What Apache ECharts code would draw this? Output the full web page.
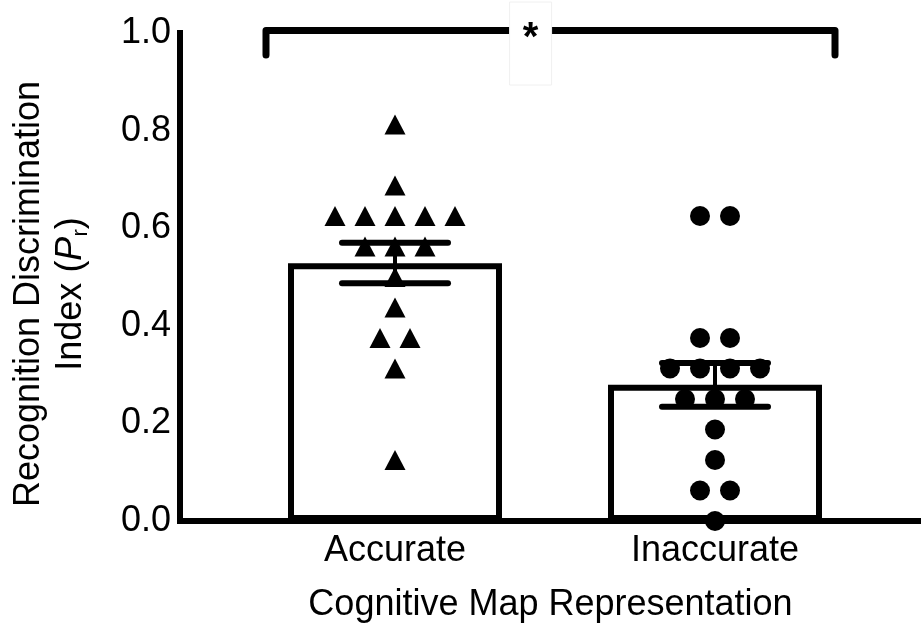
<!DOCTYPE html>
<html>
<head>
<meta charset="utf-8">
<script src="https://cdn.jsdelivr.net/npm/echarts@6/dist/echarts.min.js"></script>
<style>
html, body { margin: 0; padding: 0; background: #fff; }
#chart { width: 921px; height: 628px; }
</style>
</head>
<body>
<div id="chart"></div>
<script>
// data
const categories = ['Accurate', 'Inaccurate']
const barMeans = [0.528, 0.279]
const errLow = [0.487, 0.234]
const errHigh = [0.570, 0.324]
const accuratePoints = [0.8125, 0.6875, 0.625, 0.625, 0.625, 0.625, 0.625, 0.5625, 0.5625, 0.5625, 0.5, 0.4375, 0.375, 0.375, 0.3125, 0.125]
const inaccuratePoints = [0.625, 0.625, 0.375, 0.375, 0.3125, 0.3125, 0.3125, 0.3125, 0.25, 0.25, 0.25, 0.1875, 0.125, 0.0625, 0.0625, 0]
const bracketTop = 1.005
const bracketFoot = 0.955
const bracketLabel = '*'

const FONT = "'Liberation Sans', Arial, Helvetica, sans-serif"

// spread points sharing the same value side by side (beeswarm style)
function swarm(catIndex, values, spacing) {
  const counts = {}
  values.forEach(v => { counts[v] = (counts[v] || 0) + 1 })
  const seen = {}
  return values.map(v => {
    const k = counts[v]
    const i = seen[v] || 0
    seen[v] = i + 1
    return { value: [catIndex, v], symbolOffset: [(i - (k - 1) / 2) * spacing, 0] }
  })
}

const chart = echarts.init(document.getElementById('chart'))

chart.setOption({
  animation: false,
  textStyle: { fontFamily: FONT, color: '#000' },
  grid: [
    // data grid: two bands of 320px
    { left: 235, right: 46, top: 33, bottom: 107, outerBoundsMode: 'none' },
    // axes grid: the visible frame
    { left: 180, right: 0, top: 33, bottom: 107, outerBoundsMode: 'none' }
  ],
  xAxis: [
    {
      gridIndex: 0,
      type: 'category',
      data: categories,
      axisLine: { show: false },
      axisTick: { show: false },
      axisLabel: { fontSize: 36, color: '#000', fontFamily: FONT, margin: 12 }
    },
    {
      gridIndex: 1,
      type: 'value',
      min: 0,
      max: 1,
      axisLine: { show: true, lineStyle: { color: '#000', width: 6, cap: 'square' } },
      axisTick: { show: false },
      axisLabel: { show: false },
      splitLine: { show: false },
      name: 'Cognitive Map Representation',
      nameLocation: 'middle',
      nameGap: 66,
      nameTextStyle: { fontSize: 36, color: '#000', fontFamily: FONT }
    }
  ],
  yAxis: [
    { gridIndex: 0, type: 'value', min: 0, max: 1, show: false },
    {
      gridIndex: 1,
      type: 'value',
      min: 0,
      max: 1,
      interval: 0.2,
      axisLine: { show: true, lineStyle: { color: '#000', width: 6, cap: 'square' } },
      axisTick: { show: false },
      splitLine: { show: false },
      axisLabel: {
        fontSize: 36,
        color: '#000',
        fontFamily: FONT,
        margin: 9,
        formatter: v => v.toFixed(1)
      },
      name: 'Recognition Discrimination\n{n|Index (}{i|P}{s|r}{n|)}',
      nameLocation: 'middle',
      nameGap: 88,
      nameTextStyle: {
        fontSize: 36,
        lineHeight: 42,
        color: '#000',
        fontFamily: FONT,
        padding: [0, 34, 0, 0],
        rich: {
          n: { fontSize: 36, lineHeight: 42, fontFamily: FONT, color: '#000' },
          i: { fontSize: 36, lineHeight: 42, fontFamily: FONT, color: '#000', fontStyle: 'italic' },
          s: { fontSize: 22, lineHeight: 34, fontFamily: FONT, color: '#000', verticalAlign: 'bottom' }
        }
      }
    }
  ],
  series: [
    {
      type: 'bar',
      xAxisIndex: 0,
      yAxisIndex: 0,
      data: barMeans,
      barWidth: 214,
      itemStyle: { color: '#fff', borderColor: '#000', borderWidth: 6 },
      z: 2
    },
    {
      // SEM error bars
      type: 'custom',
      xAxisIndex: 0,
      yAxisIndex: 0,
      data: categories.map((c, i) => [i, errLow[i], errHigh[i]]),
      z: 3,
      renderItem(params, api) {
        const lo = api.coord([api.value(0), api.value(1)])
        const hi = api.coord([api.value(0), api.value(2)])
        const half = 53
        const st = { stroke: '#000', lineWidth: 6, lineCap: 'round' }
        return {
          type: 'group',
          children: [
            { type: 'line', shape: { x1: lo[0], y1: lo[1], x2: hi[0], y2: hi[1] }, style: { stroke: '#000', lineWidth: 4 } },
            { type: 'line', shape: { x1: lo[0] - half, y1: lo[1], x2: lo[0] + half, y2: lo[1] }, style: st },
            { type: 'line', shape: { x1: hi[0] - half, y1: hi[1], x2: hi[0] + half, y2: hi[1] }, style: st }
          ]
        }
      }
    },
    {
      type: 'scatter',
      xAxisIndex: 0,
      yAxisIndex: 0,
      symbol: 'triangle',
      symbolSize: [21, 20],
      itemStyle: { color: '#000', opacity: 1 },
      data: swarm(0, accuratePoints, 30),
      z: 4
    },
    {
      type: 'scatter',
      xAxisIndex: 0,
      yAxisIndex: 0,
      symbol: 'circle',
      symbolSize: 20,
      itemStyle: { color: '#000', opacity: 1 },
      data: swarm(1, inaccuratePoints, 30),
      z: 4
    },
    {
      // significance bracket
      type: 'custom',
      xAxisIndex: 0,
      yAxisIndex: 0,
      data: [[0, 1, bracketTop, bracketFoot]],
      z: 5,
      renderItem(params, api) {
        const a = api.coord([api.value(0), api.value(2)])
        const b = api.coord([api.value(1), api.value(2)])
        const footY = api.coord([api.value(0), api.value(3)])[1]
        const left = a[0] - 129
        const right = b[0] + 120
        const y = a[1]
        const starX = left + (right - left) * 0.465
        const gap = 21
        const st = { stroke: '#000', lineWidth: 7, lineCap: 'round', lineJoin: 'round' }
        return {
          type: 'group',
          children: [
            { type: 'polyline', shape: { points: [[left, footY], [left, y], [starX - gap, y]] }, style: Object.assign({ fill: null }, st) },
            { type: 'polyline', shape: { points: [[starX + gap, y], [right, y], [right, footY]] }, style: Object.assign({ fill: null }, st) },
            { type: 'rect', shape: { x: starX - gap, y: 2, width: gap * 2, height: 83 }, style: { fill: '#fff', stroke: '#f0f0f0', lineWidth: 1 } },
            { type: 'text', x: starX, y: y + 8, style: { text: bracketLabel, fontSize: 40, fontWeight: 'bold', fontFamily: FONT, fill: '#000', align: 'center', verticalAlign: 'middle' } }
          ]
        }
      }
    }
  ]
})
</script>
</body>
</html>
